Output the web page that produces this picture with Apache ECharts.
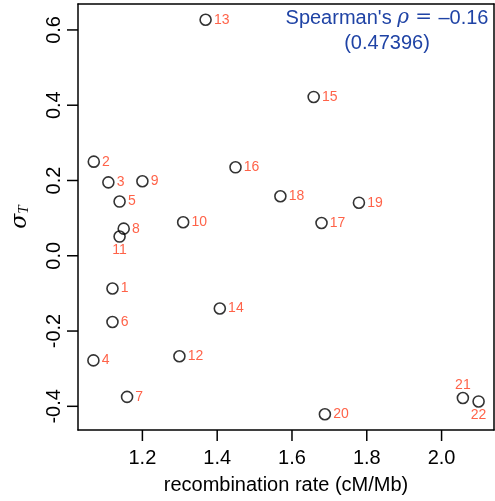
<!DOCTYPE html>
<html>
<head>
<meta charset="utf-8">
<script src="https://cdn.jsdelivr.net/npm/echarts@6/dist/echarts.min.js"></script>
<style>html,body{margin:0;padding:0;background:#fff}#c{width:495px;height:501px}</style>
</head>
<body>
<div id="c"></div>
<script>
const ids = ['1','2','3','4','5','6','7','8','9','10','11','12','13','14','15','16','17','18','19','20','21','22'];
const recombRate = [1.120,1.070,1.109,1.069,1.139,1.120,1.159,1.150,1.200,1.309,1.139,1.299,1.369,1.407,1.658,1.449,1.679,1.569,1.779,1.688,2.057,2.099];
const sigmaT = [-0.087,0.250,0.195,-0.278,0.144,-0.176,-0.375,0.072,0.198,0.089,0.051,-0.267,0.627,-0.140,0.422,0.235,0.087,0.158,0.141,-0.421,-0.378,-0.387];
const xTicks = [1.2,1.4,1.6,1.8,2.0];
const yTicks = [-0.4,-0.2,0.0,0.2,0.4,0.6];
const spearmanRho = '-0.16';
const spearmanP = '(0.47396)';

const labelPlacement = {'11':'bottom','21':'top','22':'bottom'};

function ext(arr){const mn=Math.min(...arr),mx=Math.max(...arr),r=mx-mn;return [mn-0.04*r,mx+0.04*r];}
const xr = ext(recombRate), yr = ext(sigmaT);

const data = ids.map((id,i)=>{
  const pos = labelPlacement[id] || 'right';
  return {value:[recombRate[i],sigmaT[i],id], label:{position:pos, distance: pos==='right'?2:0}};
});

const chart = echarts.init(document.getElementById('c'), null, {renderer:'canvas'});
const font = '"Liberation Sans", Arial, Helvetica, sans-serif';
const blue = '#1f43a5';
const TICK = 11;
const frameAxis = {axisLine:{show:true,onZero:false,lineStyle:{color:'#000',width:1.5}},axisTick:{show:false},axisLabel:{show:false},splitLine:{show:false}};
chart.setOption({
  animation:false,
  backgroundColor:'#fff',
  grid:{left:78,right:1,top:4,bottom:71,show:false},
  xAxis:[{type:'value',min:xr[0],max:xr[1],position:'bottom',
    axisLine:{show:true,onZero:false,lineStyle:{color:'#000',width:1.5}},splitLine:{show:false},
    axisTick:{show:false},
    axisLabel:{customValues:xTicks,formatter:v=>v.toFixed(1),fontFamily:font,fontSize:20,color:'#000',margin:18},
    name:'recombination rate (cM/Mb)',nameLocation:'middle',nameGap:45,
    nameTextStyle:{fontFamily:font,fontSize:20,color:'#000'}},
    Object.assign({type:'value',min:xr[0],max:xr[1],position:'top'},frameAxis)],
  yAxis:[{type:'value',min:yr[0],max:yr[1],position:'left',
    axisLine:{show:true,onZero:false,lineStyle:{color:'#000',width:1.5}},splitLine:{show:false},
    axisTick:{show:false},
    axisLabel:{customValues:yTicks,rotate:90,formatter:v=>v.toFixed(1),fontFamily:font,fontSize:20,color:'#000',margin:14},
    name:'{s|σ}{t|T}',nameLocation:'middle',nameGap:46,nameRotate:90,
    nameTextStyle:{rich:{s:{fontFamily:'"DejaVu Serif", "Liberation Serif", serif',fontStyle:'italic',fontSize:22,color:'#000'},
      t:{fontFamily:'"Liberation Serif", serif',fontStyle:'italic',fontSize:15,color:'#000',padding:[9,0,0,0]}}}},
    Object.assign({type:'value',min:yr[0],max:yr[1],position:'right'},frameAxis)],
  series:[
    {type:'scatter',data:data,symbol:'circle',symbolSize:11,
    itemStyle:{color:'transparent',borderColor:'#000',borderWidth:1.6},
    label:{show:true,formatter:p=>p.value[2],color:'#ff3b1a',fontFamily:font,fontSize:14}}]
});

// ticks positioned through the chart's own scales
const gfx = [
  {type:'text',x:387,y:18,z:100,style:{
    text:'{a|Spearman\'s }{r|ρ}{e| = }{a|'+spearmanRho.replace('-','–')+'}',
    align:'center',verticalAlign:'middle',
    rich:{a:{fontFamily:font,fontSize:20,fill:blue},
      r:{fontFamily:'"DejaVu Serif", serif',fontStyle:'italic',fontSize:20,fill:blue},
      e:{fontFamily:'"DejaVu Serif", serif',fontSize:20,fill:blue}}}},
  {type:'text',x:387,y:43,z:100,style:{text:spearmanP,align:'center',verticalAlign:'middle',
    font:'20px '+font,fill:blue}}
];
xTicks.forEach(v=>{
  const p = chart.convertToPixel({xAxisIndex:0,yAxisIndex:0},[v,yr[0]]);
  gfx.push({type:'line',z:100,silent:true,shape:{x1:p[0],y1:p[1],x2:p[0],y2:p[1]+TICK},style:{stroke:'#000',lineWidth:1.5}});
});
yTicks.forEach(v=>{
  const p = chart.convertToPixel({xAxisIndex:0,yAxisIndex:0},[xr[0],v]);
  gfx.push({type:'line',z:100,silent:true,shape:{x1:p[0],y1:p[1],x2:p[0]-TICK,y2:p[1]},style:{stroke:'#000',lineWidth:1.5}});
});
chart.setOption({graphic:gfx});
</script>
</body>
</html>
